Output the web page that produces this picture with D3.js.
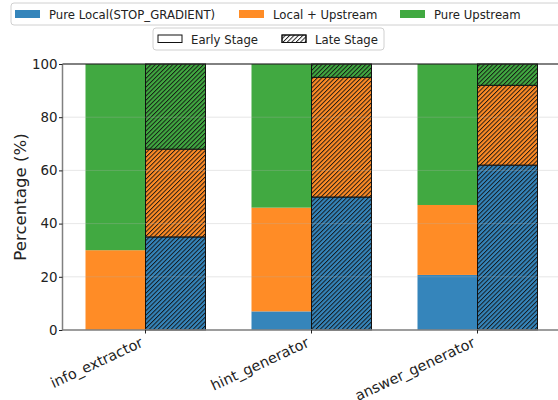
<!DOCTYPE html>
<html>
<head>
<meta charset="utf-8">
<script src="https://cdn.jsdelivr.net/npm/d3@7"></script>
<style>
  body { margin: 0; background: #fff; }
  svg { display: block; }
  text { font-family: "DejaVu Sans", sans-serif; }
</style>
</head>
<body>
<svg id="chart" width="558" height="400"></svg>
<script>
// ---- data ----
const categories = ["info_extractor", "hint_generator", "answer_generator"];
const seriesNames = ["Pure Local(STOP_GRADIENT)", "Local + Upstream", "Pure Upstream"];
const stageNames = ["Early Stage", "Late Stage"];
const earlyPureLocal = [0, 7, 20.7];
const earlyLocalUpstream = [30, 39, 26.3];
const earlyPureUpstream = [70, 54, 53];
const latePureLocal = [35, 50, 62];
const lateLocalUpstream = [33, 45, 30];
const latePureUpstream = [32, 5, 8];
const yTicks = [0, 20, 40, 60, 80, 100];

const colors = ["#3585bb", "#ff8c26", "#41a941"];

const svg = d3.select("#chart");
const margin = { left: 62.5, top: 64, bottom: 330 };
const groupW = 166;

const x = d3.scaleBand().domain(categories)
  .range([margin.left, margin.left + groupW * categories.length]).padding(0);
const y = d3.scaleLinear().domain([0, 100]).range([margin.bottom, margin.top]);
const barW = 60;

// hatch pattern
const defs = svg.append("defs");
const pat = defs.append("pattern")
  .attr("id", "hatch")
  .attr("patternUnits", "userSpaceOnUse")
  .attr("width", 3.1).attr("height", 10)
  .attr("patternTransform", "rotate(45)");
pat.append("line").attr("x1", 0.5).attr("y1", 0).attr("x2", 0.5).attr("y2", 10)
  .attr("stroke", "#111").attr("stroke-width", 0.9);

const stages = [
  { name: "early", vals: [earlyPureLocal, earlyLocalUpstream, earlyPureUpstream], off: -barW },
  { name: "late", vals: [latePureLocal, lateLocalUpstream, latePureUpstream], off: 0 }
];

const gBars = svg.append("g");
stages.forEach(st => {
  categories.forEach((c, i) => {
    let base = 0;
    st.vals.forEach((arr, s) => {
      const v = arr[i];
      const x0 = x(c) + x.bandwidth() / 2 + st.off;
      const yTop = y(base + v), yBot = y(base);
      gBars.append("rect")
        .attr("x", x0).attr("y", yTop)
        .attr("width", barW).attr("height", Math.max(0, yBot - yTop))
        .attr("fill", colors[s]);
      if (st.name === "late") {
        gBars.append("rect")
          .attr("x", x0).attr("y", yTop)
          .attr("width", barW).attr("height", Math.max(0, yBot - yTop))
          .attr("fill", "url(#hatch)")
          .attr("stroke", "#111").attr("stroke-width", 1);
      }
      base += v;
    });
  });
});

// grid (on top of bars, faint)
const gGrid = svg.append("g");
yTicks.forEach(t => {
  gGrid.append("line")
    .attr("x1", margin.left).attr("x2", 558)
    .attr("y1", y(t)).attr("y2", y(t))
    .attr("stroke", "#b0b0b0").attr("stroke-opacity", 0.3).attr("stroke-width", 1);
});

// spines
svg.append("line").attr("x1", margin.left).attr("x2", 558)
  .attr("y1", margin.top).attr("y2", margin.top)
  .attr("stroke", "#111").attr("stroke-width", 1.2);
svg.append("line").attr("x1", margin.left).attr("x2", 558)
  .attr("y1", margin.bottom).attr("y2", margin.bottom)
  .attr("stroke", "#808080").attr("stroke-width", 1.5);
svg.append("line").attr("x1", margin.left).attr("x2", margin.left)
  .attr("y1", margin.top).attr("y2", margin.bottom)
  .attr("stroke", "#808080").attr("stroke-width", 1.5);

// y axis
const yAxis = d3.axisLeft(y).tickValues(yTicks).tickSize(3.5).tickPadding(1.5);
const gy = svg.append("g").attr("transform", `translate(${margin.left},0)`).call(yAxis);
gy.select(".domain").remove();
gy.selectAll(".tick line").attr("stroke", "#222").attr("stroke-width", 1);
gy.selectAll(".tick text").attr("font-size", "13.4px").attr("fill", "#222")
  .attr("font-family", "DejaVu Sans");

// x axis
const xAxis = d3.axisBottom(x).tickSize(3.5).tickPadding(3);
const gx = svg.append("g").attr("transform", `translate(0,${margin.bottom})`).call(xAxis);
gx.select(".domain").remove();
gx.selectAll(".tick line").attr("stroke", "#222").attr("stroke-width", 1);
gx.selectAll(".tick text")
  .attr("font-size", "14.4px").attr("fill", "#222").attr("font-family", "DejaVu Sans")
  .attr("text-anchor", "end")
  .attr("x", 0).attr("y", 0).attr("dy", 0)
  .attr("transform", "translate(-1.5,16) rotate(-25)");

// y label
svg.append("text")
  .attr("transform", `translate(26,197) rotate(-90)`)
  .attr("text-anchor", "middle")
  .attr("font-size", "16.6px").attr("fill", "#222")
  .text("Percentage (%)");

// legend 1
const lg1 = svg.append("g");
lg1.append("rect").attr("x", 11).attr("y", 3).attr("width", 560).attr("height", 22)
  .attr("rx", 3).attr("fill", "#fff").attr("stroke", "#d0d0d0");
const lg1x = [15, 239, 400];
seriesNames.forEach((n, i) => {
  lg1.append("rect").attr("x", lg1x[i]).attr("y", 10).attr("width", 25).attr("height", 8)
    .attr("fill", colors[i]);
  lg1.append("text").attr("x", lg1x[i] + 34).attr("y", 18.5)
    .attr("font-size", "11.7px").attr("fill", "#222").text(n);
});

// legend 2
const lg2 = svg.append("g");
lg2.append("rect").attr("x", 153).attr("y", 28).attr("width", 231).attr("height", 22)
  .attr("rx", 3).attr("fill", "#fff").attr("stroke", "#d0d0d0");
const lg2x = [158, 282];
stageNames.forEach((n, i) => {
  lg2.append("rect").attr("x", lg2x[i]).attr("y", 35).attr("width", 24).attr("height", 7.5)
    .attr("fill", "#fff").attr("stroke", "#111").attr("stroke-width", 1);
  if (i === 1) {
    lg2.append("rect").attr("x", lg2x[i]).attr("y", 35).attr("width", 24).attr("height", 7.5)
      .attr("fill", "url(#hatch)").attr("stroke", "#111").attr("stroke-width", 1);
  }
  lg2.append("text").attr("x", lg2x[i] + 33).attr("y", 43.5)
    .attr("font-size", "11.7px").attr("fill", "#222").text(n);
});
</script>
</body>
</html>
